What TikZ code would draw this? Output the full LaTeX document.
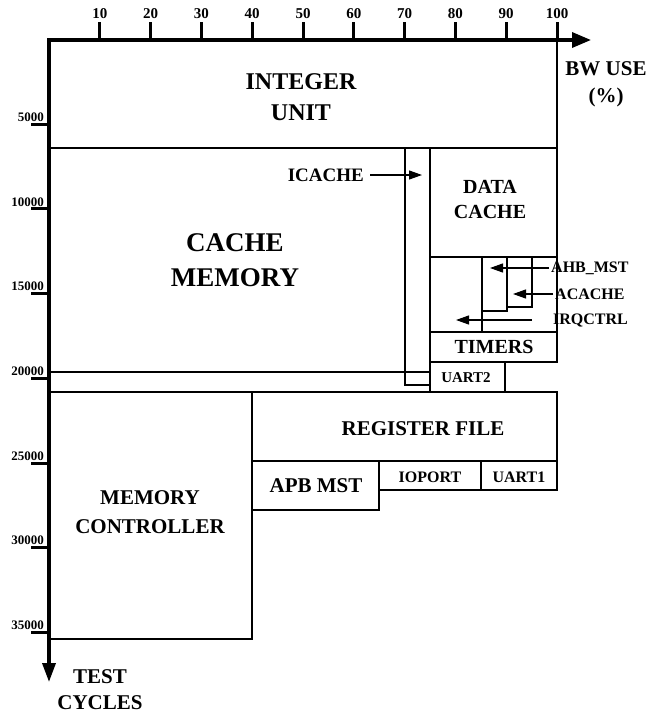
\documentclass[tikz,border=0pt]{standalone}
\usepackage{fontspec}
\setmainfont{Liberation Serif}
\usetikzlibrary{arrows.meta}
\begin{document}
\begin{tikzpicture}[x=1pt,y=-1pt,
  box/.style={line width=1.8pt, line join=miter},
  axisline/.style={line width=3.5pt, line join=miter},
  tick/.style={line width=3pt},
  arr/.style={line width=1.2pt, -{Triangle[length=13pt,width=9pt]}},
  txt/.style={font=\bfseries\fontsize{#1}{#1}\selectfont, inner sep=0pt, align=center},
  txtb/.style 2 args={font=\bfseries\fontsize{#1}{#2}\selectfont, inner sep=0pt, align=center}
]
\useasboundingbox (0,0) rectangle (648,715);
% boxes
\draw[box] (49,40) rectangle (557,148);
\draw[box] (49,148) rectangle (405,372);
\draw[box] (405,148) rectangle (430,385);
\draw[box] (430,148) rectangle (557,257);
\draw[box] (430,257) rectangle (557,332);
\draw[box] (430,257) rectangle (482,332);
\draw[box] (482,257) rectangle (507,311);
\draw[box] (507,257) rectangle (532,307);
\draw[box] (430,332) rectangle (557,362);
\draw[box] (430,362) rectangle (505,392);
\draw[box] (49,372) rectangle (430,392);
\draw[box] (252,392) rectangle (557,461);
\draw[box] (49,392) rectangle (252,639);
\draw[box] (252,461) rectangle (379,510);
\draw[box] (379,461) rectangle (481,490);
\draw[box] (481,461) rectangle (557,490);
% axes
\draw[axisline, {Triangle[length=19pt,width=13pt]}-{Triangle[length=19pt,width=15pt]}] (49,682) -- (49,40) -- (591,40);
\foreach \i in {1,...,10} {
  \pgfmathsetmacro{\xx}{49+50.8*\i}
  \draw[tick] (\xx,22) -- (\xx,40);
  \pgfmathtruncatemacro{\v}{10*\i}
  \node[txt=15] (xl\i) at (\xx,14) {\v};
}
\foreach \k in {1,...,7} {
  \pgfmathsetmacro{\yy}{39.5+84.7*\k}
  \draw[tick] (31,\yy) -- (49,\yy);
  \pgfmathtruncatemacro{\v}{5*\k}
  \node[txt=13, anchor=east] (yl\k) at (44,\yy-7) {\v000};
}
% labels
\node[txtb={24}{31}] (iu) at (301,97) {INTEGER\\UNIT};
\node[txtb={27}{35}] (cm) at (235,260) {CACHE\\MEMORY};
\node[txt=19, anchor=east] (icl) at (364,175) {ICACHE};
\node[txtb={20}{25}] (dc) at (490,199) {DATA\\CACHE};
\node[txt=16, anchor=west] (ahb) at (551,268) {AHB\_MST};
\node[txt=16, anchor=west] (acl) at (555,294) {ACACHE};
\node[txt=16, anchor=west] (irq) at (553,320) {IRQCTRL};
\node[txt=20] (tim) at (494,347) {TIMERS};
\node[txt=15] (u2) at (466,378) {UART2};
\node[txt=21] (rf) at (423,429) {REGISTER FILE};
\node[txt=21] (apb) at (316,486) {APB MST};
\node[txt=16] (iop) at (430,477) {IOPORT};
\node[txt=16] (u1) at (519,477) {UART1};
\node[txtb={21}{29}] (mc) at (150,512) {MEMORY\\CONTROLLER};
\node[txtb={21}{26}] (tc) at (100,690) {TEST\\CYCLES};
\node[txtb={21}{27}] (bw) at (606,84) {BW USE\\(\%)};
% arrows
\coordinate (icp) at (422,175);
\coordinate (ahbp) at (490,268);
\coordinate (acp) at (513,294);
\coordinate (irs) at (532,320);
\coordinate (irp) at (456,320);
\draw[arr] ([xshift=6pt]icl.east) -- (icp);
\draw[arr] ([xshift=-2pt]ahb.west) -- (ahbp);
\draw[arr] ([xshift=-2pt]acl.west) -- (acp);
\draw[arr] (irs) -- (irp);
\end{tikzpicture}
\end{document}
